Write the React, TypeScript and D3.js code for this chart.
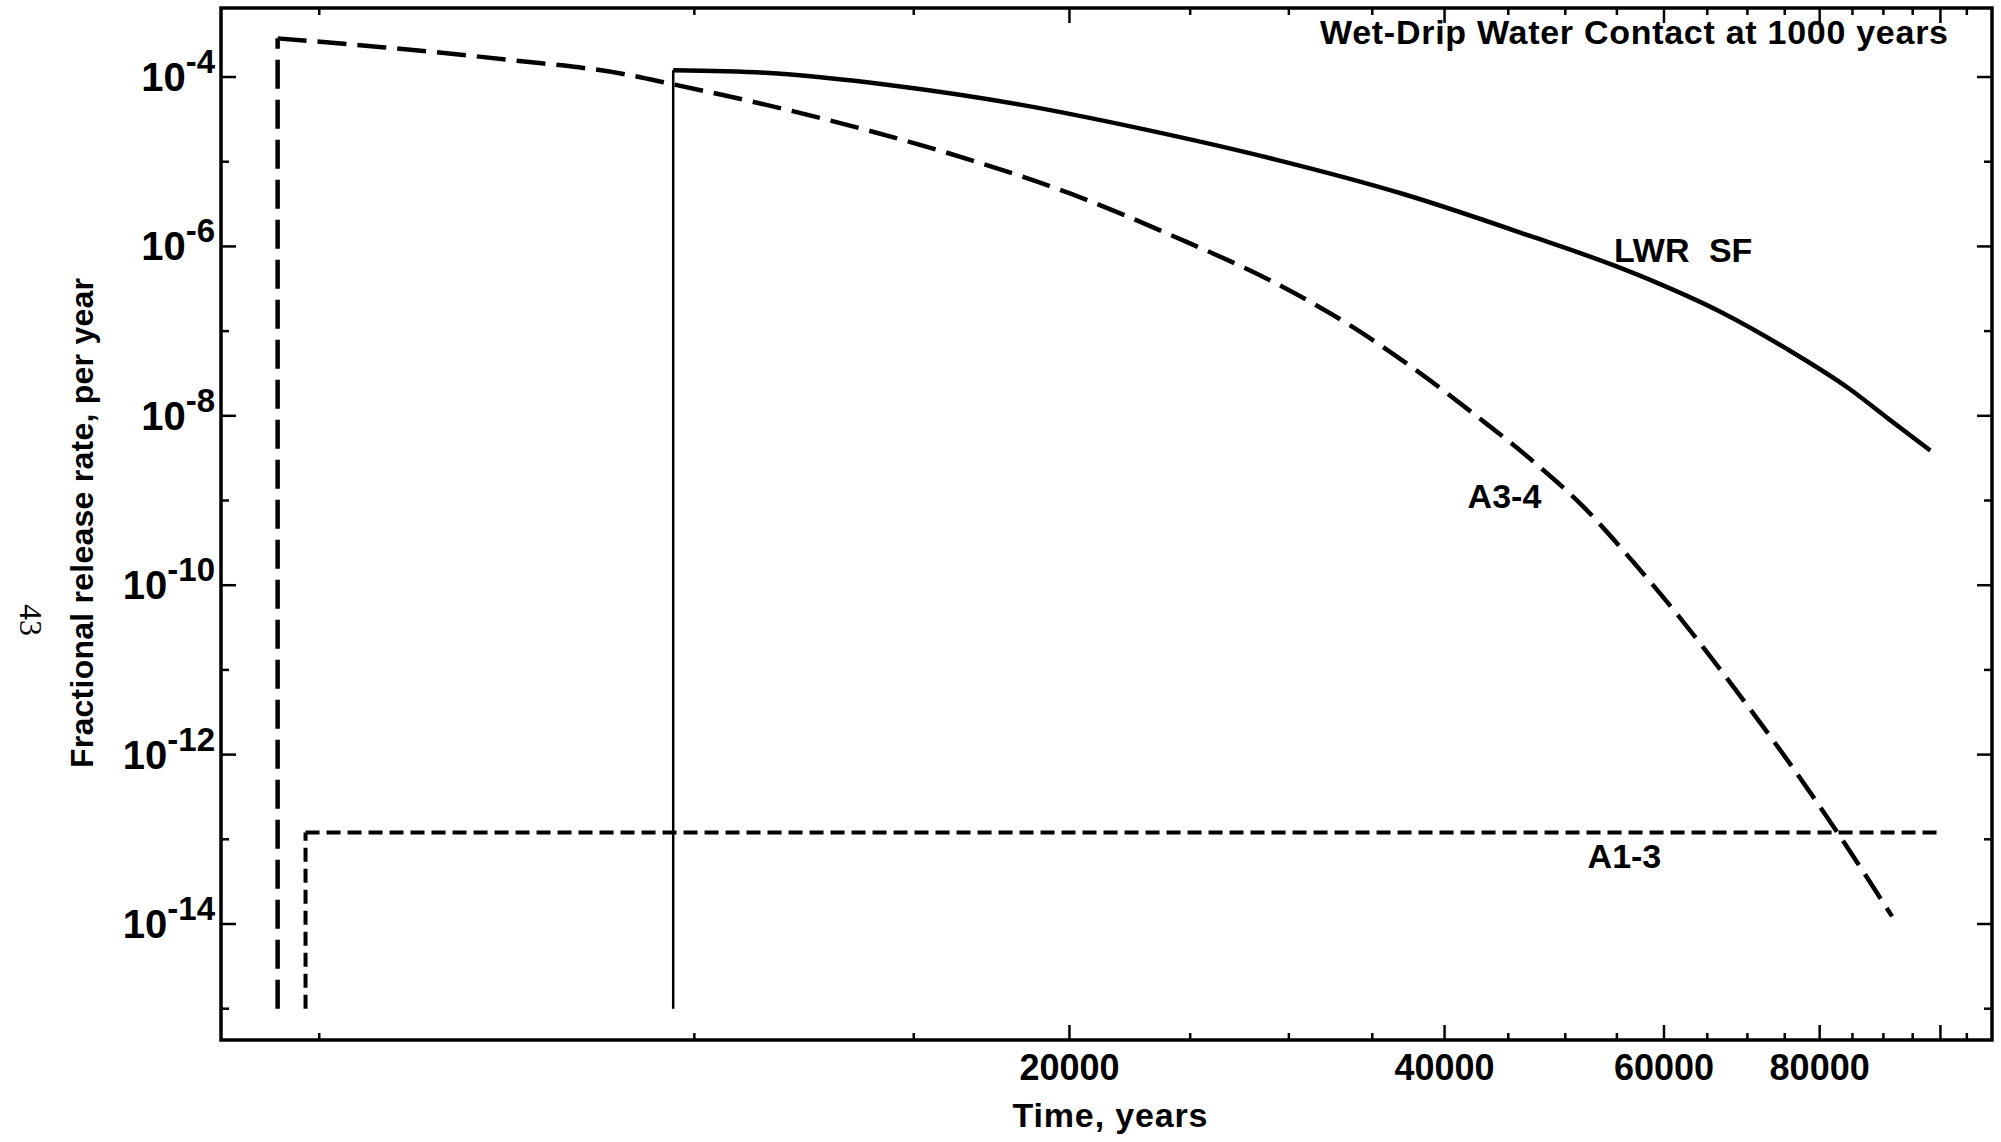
import React from 'react';
import * as d3 from 'd3';

// Fractional release rate vs. time, log–log, three waste forms.

const W = 2001;
const H = 1142;
const frame = { left: 221, right: 1992, top: 8, bottom: 1040 };

const timeDomain = [4170, 110000];
const rateDomain = [4.27e-16, 6.53e-4];

const majorTimeTicks = [20000, 40000, 60000, 80000, 100000];
const timeTickLabels = ['20000', '40000', '60000', '80000', ''];
const minorTimeTicks = [
  5000, 10000, 15000, 25000, 30000, 35000, 45000, 50000, 55000,
  65000, 70000, 75000, 85000, 90000, 95000, 105000,
];
const labeledExponents = [-4, -6, -8, -10, -12, -14];

const floorRate = 1e-15;

// LWR spent fuel (solid)
const lwrTime = [9617, 11400, 14430, 18260, 23120, 29280, 37060, 46920, 54700, 59380, 66820, 75170, 84610, 90800, 98150];
const lwrRate = [1.2e-4, 1.12e-4, 7.94e-5, 4.72e-5, 2.36e-5, 1.06e-5, 4.16e-6, 1.32e-6, 5.96e-7, 3.66e-7, 1.65e-7, 6.25e-8, 2.06e-8, 9.27e-9, 3.89e-9];

// A3-4 (long dashes)
const a34Time = [4630, 5617, 7110, 8795, 9617, 11400, 13760, 16620, 20070, 24240, 29280, 33720, 37940, 42700, 46920, 51570, 56650, 62260, 68430, 75170, 82620, 87640, 91450];
const a34Rate = [2.86e-4, 2.25e-4, 1.59e-4, 1.08e-4, 8.2e-5, 4.72e-5, 2.36e-5, 1.06e-5, 4.16e-6, 1.32e-6, 3.67e-7, 1.13e-7, 3.46e-8, 9.27e-9, 3.05e-9, 8.76e-10, 1.9e-10, 3.6e-11, 5.93e-12, 9.1e-13, 1.22e-13, 3.26e-14, 1.23e-14];

// A1-3 (short dashes)
const a13Time = [4875, 100000];
const a13Rate = [1.2e-13, 1.2e-13];

const seriesNames = ['LWR SF', 'A3-4', 'A1-3'];
const labelTime = [54700, 41740, 52100];
const labelRate = [6.5e-7, 8.1e-10, 4.6e-14];

const FONT = '"Liberation Sans", Arial, Helvetica, sans-serif';

export default function App() {
  const x = d3.scaleLog().domain(timeDomain).range([frame.left, frame.right]);
  const y = d3.scaleLog().domain(rateDomain).range([frame.bottom, frame.top]);

  const curve = d3
    .line<[number, number]>()
    .x((d) => x(d[0]))
    .y((d) => y(d[1]))
    .curve(d3.curveMonotoneX);
  const straight = d3
    .line<[number, number]>()
    .x((d) => x(d[0]))
    .y((d) => y(d[1]));

  const zip = (t: number[], v: number[]) => t.map((ti, i) => [ti, v[i]] as [number, number]);
  const lwr = zip(lwrTime, lwrRate);
  const a34 = zip(a34Time, a34Rate);
  const a13 = zip(a13Time, a13Rate);

  // vertical rise from the floor to the first value of a series
  const step = (pts: [number, number][]) => straight([[pts[0][0], floorRate], pts[0]]) as string;

  const allDecades = d3.range(-15, -3);

  return (
    <svg
      width={W}
      height={H}
      viewBox={`0 0 ${W} ${H}`}
      style={{ position: 'absolute', left: 0, top: 0, background: '#fff' }}
    >
      <rect x={0} y={0} width={W} height={H} fill="#fff" />

      {/* plot frame */}
      <rect
        x={frame.left}
        y={frame.top}
        width={frame.right - frame.left}
        height={frame.bottom - frame.top}
        fill="none"
        stroke="#000"
        strokeWidth={3.5}
      />

      {/* x ticks, bottom and top */}
      {majorTimeTicks.map((t) => (
        <g key={'M' + t}>
          <line x1={x(t)} x2={x(t)} y1={frame.bottom} y2={frame.bottom - 15} stroke="#000" strokeWidth={2.5} />
          <line x1={x(t)} x2={x(t)} y1={frame.top} y2={frame.top + 15} stroke="#000" strokeWidth={2.5} />
        </g>
      ))}
      {minorTimeTicks.map((t) => (
        <g key={'m' + t}>
          <line x1={x(t)} x2={x(t)} y1={frame.bottom} y2={frame.bottom - 7} stroke="#000" strokeWidth={2.5} />
          <line x1={x(t)} x2={x(t)} y1={frame.top} y2={frame.top + 7} stroke="#000" strokeWidth={2.5} />
        </g>
      ))}
      {majorTimeTicks.map((t, i) => (
        <text
          key={'L' + t}
          x={x(t)}
          y={frame.bottom + 40}
          textAnchor="middle"
          fontFamily={FONT}
          fontWeight="bold"
          fontSize={36}
        >
          {timeTickLabels[i]}
        </text>
      ))}

      {/* y ticks, left and right */}
      {allDecades.map((e) => {
        const long = labeledExponents.includes(e);
        const len = long ? 15 : 8;
        const yy = y(Math.pow(10, e));
        return (
          <g key={'y' + e}>
            <line x1={frame.left} x2={frame.left + len} y1={yy} y2={yy} stroke="#000" strokeWidth={2.5} />
            <line x1={frame.right} x2={frame.right - len} y1={yy} y2={yy} stroke="#000" strokeWidth={2.5} />
          </g>
        );
      })}
      {labeledExponents.map((e) => {
        const yy = y(Math.pow(10, e));
        return (
          <text
            key={'yl' + e}
            x={frame.left - 6}
            y={yy + 14}
            textAnchor="end"
            fontFamily={FONT}
            fontWeight="bold"
            fontSize={40}
          >
            <tspan>10</tspan>
            <tspan dy={-18} fontSize={33}>{String(e)}</tspan>
          </text>
        );
      })}

      {/* series */}
      <g fill="none" stroke="#000" strokeLinecap="butt">
        <path d={step(lwr)} strokeWidth={2.5} />
        <path d={curve(lwr) as string} strokeWidth={4.5} strokeLinejoin="round" />

        <path d={step(a34)} strokeWidth={4.5} strokeDasharray="29 11" />
        <path d={curve(a34) as string} strokeWidth={4.5} strokeDasharray="29 11" />

        <path d={step(a13)} strokeWidth={4} strokeDasharray="14 7" />
        <path d={straight(a13) as string} strokeWidth={4} strokeDasharray="14 7" />
      </g>

      {/* series labels */}
      {seriesNames.map((s, i) => (
        <text
          key={s}
          x={x(labelTime[i])}
          y={y(labelRate[i])}
          fontFamily={FONT}
          fontWeight="bold"
          fontSize={34}
          wordSpacing={10}
        >
          {s}
        </text>
      ))}

      {/* title */}
      <text
        x={1320}
        y={44}
        fontFamily={FONT}
        fontWeight="bold"
        fontSize={34}
        textLength={628}
        lengthAdjust="spacing"
      >
        Wet-Drip Water Contact at 1000 years
      </text>

      {/* axis titles */}
      <text
        x={1110}
        y={1127}
        textAnchor="middle"
        fontFamily={FONT}
        fontWeight="bold"
        fontSize={34}
        textLength={195}
        lengthAdjust="spacing"
      >
        Time, years
      </text>
      <text
        transform="translate(93,523) rotate(-90)"
        textAnchor="middle"
        fontFamily={FONT}
        fontWeight="bold"
        fontSize={32}
        textLength={490}
        lengthAdjust="spacing"
      >
        Fractional release rate, per year
      </text>

      {/* page number */}
      <text
        transform="translate(20,620) rotate(90)"
        textAnchor="middle"
        fontFamily='"Liberation Serif", "DejaVu Serif", serif'
        fontSize={32}
      >
        43
      </text>
    </svg>
  );
}
